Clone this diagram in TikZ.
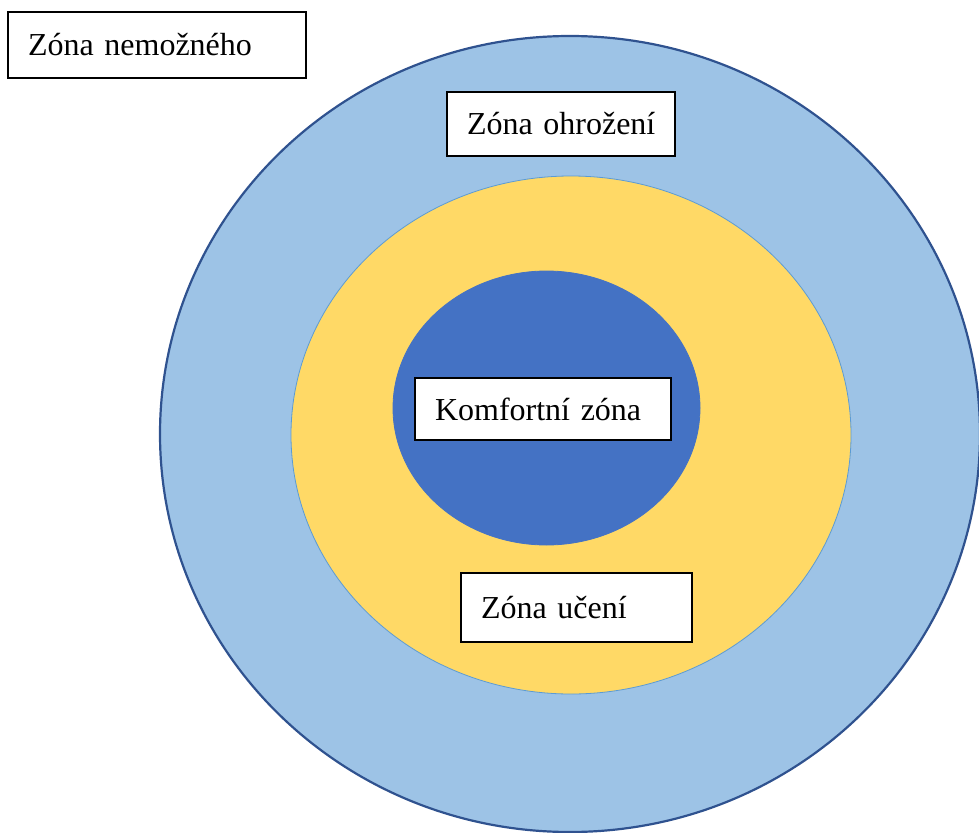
\documentclass[tikz,border=0pt]{standalone}
\usepackage{fontspec}
\setmainfont{Liberation Serif}
\usetikzlibrary{shapes.geometric}
\definecolor{outerblue}{HTML}{9DC3E6}
\definecolor{rimblue}{HTML}{2F528F}
\definecolor{zoneyellow}{HTML}{FFD966}
\definecolor{thinblue}{HTML}{5B9BD5}
\definecolor{coreblue}{HTML}{4472C4}
\tikzset{
  zone/.style={ellipse,inner sep=0pt},
  zonelabel/.style={draw=black,line width=1.3pt,fill=white,inner xsep=20pt,inner ysep=0pt,
    align=left,font=\fontsize{32}{38}\selectfont},
}
\begin{document}
\begin{tikzpicture}[x=1pt,y=-1pt]
%%
  \useasboundingbox (0,0) rectangle (979,832);

  \node (zone_outer) at (570,434) [zone,draw=rimblue,line width=2.2pt,fill=outerblue,minimum width=820pt,minimum height=796pt] {};
  \node (zone_learn) at (571,435) [zone,draw=thinblue,line width=0.8pt,fill=zoneyellow,minimum width=560pt,minimum height=518pt] {};
  \node (zone_core) at (546.5,408) [zone,draw=coreblue,line width=0.8pt,fill=coreblue,minimum width=307pt,minimum height=274pt] {};

  \node (label_impossible) at (157,45) [zonelabel,text width=258pt,minimum height=66pt] {\mbox{Zóna nemožného}};
  \node (label_danger) at (561,124) [zonelabel,text width=188pt,minimum height=64pt] {\mbox{Zóna ohrožení}};
  \node (label_comfort) at (543,409) [zonelabel,text width=216pt,minimum height=62pt] {\mbox{Komfortní zóna}};
  \node (label_learning) at (576.5,607.5) [zonelabel,text width=191pt,minimum height=69pt] {\mbox{Zóna učení}};
%
\end{tikzpicture}
\end{document}
